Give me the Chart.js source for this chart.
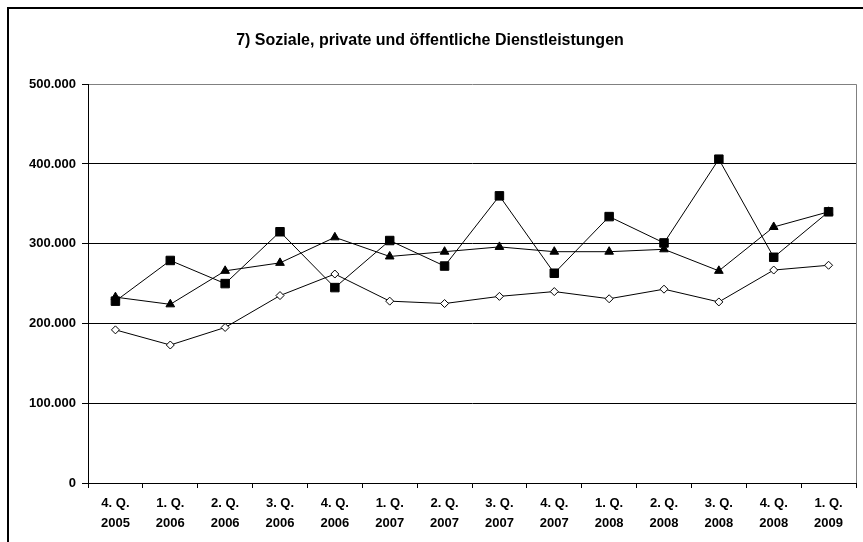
<!DOCTYPE html>
<html>
<head>
<meta charset="utf-8">
<script src="https://cdn.jsdelivr.net/npm/chart.js@4/dist/chart.umd.min.js"></script>
<style>
  html, body { margin: 0; padding: 0; background: #fff; }
  canvas { display: block; }
</style>
</head>
<body>
<canvas id="chart" width="863" height="542"></canvas>
<script>
// Quartale (x-Achse)
const quartale = [
    ['4. Q.', '2005'], ['1. Q.', '2006'], ['2. Q.', '2006'], ['3. Q.', '2006'],
    ['4. Q.', '2006'], ['1. Q.', '2007'], ['2. Q.', '2007'], ['3. Q.', '2007'],
    ['4. Q.', '2007'], ['1. Q.', '2008'], ['2. Q.', '2008'], ['3. Q.', '2008'],
    ['4. Q.', '2008'], ['1. Q.', '2009']
];

// Werte
const reiheQuadrat = [228000, 279000, 250000, 315000, 245000, 304000, 272000, 360000, 263000, 334000, 301000, 406000, 283000, 340000];
const reiheDreieck = [233000, 224000, 266000, 276000, 308000, 284000, 290000, 296000, 290000, 290000, 293000, 266000, 321000, 340000];
const reiheRaute   = [192000, 173000, 195000, 235000, 262000, 228000, 225000, 234000, 240000, 231000, 243000, 227000, 267000, 273000];

const titel = '7) Soziale, private und öffentliche Dienstleistungen';
const yMax = 500000;
const yStep = 100000;

const schrift = 'Liberation Sans, Arial, sans-serif';

// Zahl mit Tausenderpunkt
function formatZahl(v) {
    return String(v).replace(/\B(?=(\d{3})+(?!\d))/g, '.');
}

// Rahmen und rechte Kante der Zeichenfläche
const rahmenPlugin = {
    id: 'rahmen',
    beforeDraw(chart) {
        const ctx = chart.ctx;
        ctx.save();
        ctx.fillStyle = '#fff';
        ctx.fillRect(0, 0, chart.width, chart.height);
        ctx.strokeStyle = '#000';
        ctx.lineWidth = 2;
        ctx.strokeRect(8, 8, chart.width + 20, chart.height + 20);
        ctx.restore();
    },
    afterDatasetsDraw(chart) {
        const ctx = chart.ctx;
        const a = chart.chartArea;
        ctx.save();
        ctx.strokeStyle = '#808080';
        ctx.lineWidth = 1;
        ctx.beginPath();
        ctx.moveTo(Math.round(a.right) + 0.5, a.top);
        ctx.lineTo(Math.round(a.right) + 0.5, a.bottom);
        ctx.stroke();
        ctx.restore();
    }
};

const ctx = document.getElementById('chart').getContext('2d');
new Chart(ctx, {
    type: 'line',
    data: {
        labels: quartale,
        datasets: [
            {
                label: 'Reihe 1',
                data: reiheQuadrat,
                borderColor: '#000',
                backgroundColor: '#000',
                borderWidth: 1,
                pointStyle: 'rect',
                pointRadius: 6,
                pointBorderWidth: 1,
                tension: 0
            },
            {
                label: 'Reihe 2',
                data: reiheDreieck,
                borderColor: '#000',
                backgroundColor: '#000',
                borderWidth: 1,
                pointStyle: 'triangle',
                pointRadius: 5,
                pointBorderWidth: 1,
                tension: 0
            },
            {
                label: 'Reihe 3',
                data: reiheRaute,
                borderColor: '#000',
                backgroundColor: '#fff',
                borderWidth: 1,
                pointStyle: 'rectRot',
                pointRadius: 4,
                pointBorderWidth: 1,
                tension: 0
            }
        ]
    },
    options: {
        responsive: false,
        animation: false,
        layout: { padding: { left: 0, right: 3, top: 0, bottom: 14 } },
        plugins: {
            legend: { display: false },
            tooltip: { enabled: false },
            title: {
                display: true,
                text: titel,
                color: '#000',
                font: { family: schrift, size: 16, weight: 'bold', lineHeight: 1.2 },
                padding: { top: 31, bottom: 34 }
            }
        },
        scales: {
            x: {
                offset: true,
                grid: {
                    offset: true,
                    drawOnChartArea: false,
                    drawTicks: true,
                    tickLength: 5,
                    color: '#000'
                },
                border: { color: '#000', width: 1 },
                ticks: {
                    color: '#000',
                    font: { family: schrift, size: 13, weight: 'bold', lineHeight: 1.5 },
                    padding: 6,
                    maxRotation: 0,
                    autoSkip: false
                },
                afterFit(scale) { scale.height = 45; }
            },
            y: {
                min: 0,
                max: yMax,
                ticks: {
                    stepSize: yStep,
                    color: '#000',
                    font: { family: schrift, size: 13, weight: 'bold' },
                    padding: 6,
                    callback: v => formatZahl(v)
                },
                grid: {
                    color: c => (c.tick && c.tick.value === yMax ? '#808080' : '#000'),
                    lineWidth: 1,
                    tickLength: 6,
                    tickColor: '#000'
                },
                border: { color: '#000', width: 1 },
                afterFit(scale) { scale.width = 88; }
            }
        }
    },
    plugins: [rahmenPlugin]
});
</script>
</body>
</html>
